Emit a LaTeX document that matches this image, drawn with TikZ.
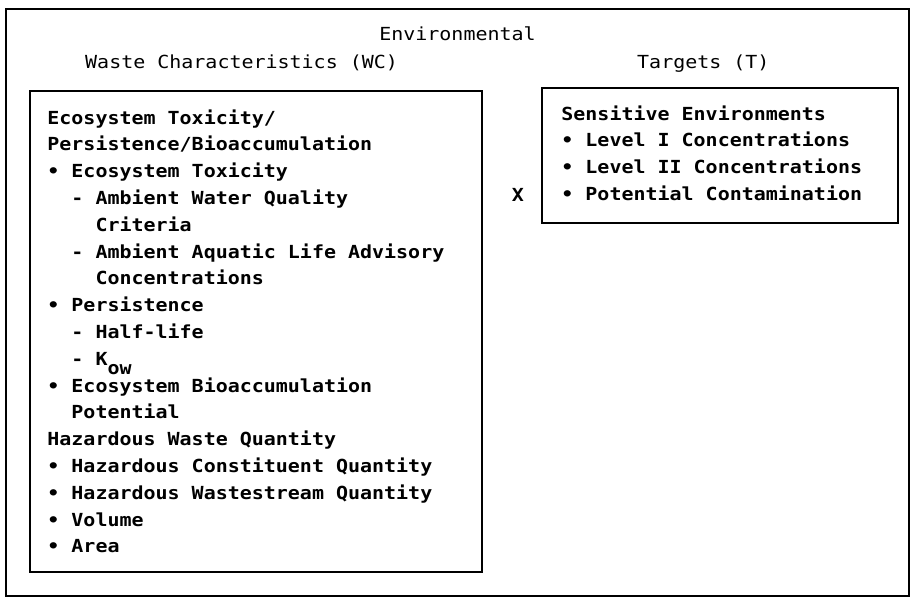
\documentclass[tikz,border=0pt]{standalone}
\usepackage{fontspec}
\usepackage{tikz}
\usetikzlibrary{positioning}
\newfontfamily\sheetfont[FakeStretch=1.11]{DejaVu Sans Mono}
\newcommand{\indw}{\hphantom{xx}}

\begin{document}
\begin{tikzpicture}[x=1pt, y=1pt,
    boxline/.style={draw, line width=1.6pt, inner sep=0pt},
    sheettext/.style={font=\sheetfont\fontsize{18}{26.8}\selectfont, inner sep=0pt, align=left},
    itemtext/.style={sheettext, font=\sheetfont\bfseries\fontsize{18}{26.8}\selectfont}]
  \useasboundingbox (0,0) rectangle (917,597);
  % outer frame and the two boxes
  \node[boxline, minimum width=903pt, minimum height=587pt] (sheet) at (457.5,294.5) {};
  \node[boxline, minimum width=452pt, minimum height=481pt] (wc) at (256,265.5) {};
  \node[boxline, minimum width=356pt, minimum height=135pt] (tg) at (720,441.5) {};

  % headings
  \node[sheettext, anchor=base] (env) at (457.5,556.5) {Environmental};
  \node[sheettext, anchor=base west] (wchead) at (85,528.5) {Waste Characteristics (WC)};
  \node[sheettext, anchor=base west] (tghead) at (637,528.5) {Targets (T)};

  % box contents
  \node[itemtext, anchor=north west] (wclist) at ([xshift=18pt, yshift=-19pt]wc.north west)
    {Ecosystem Toxicity/\\
     Persistence/Bioaccumulation\\
     • Ecosystem Toxicity\\
     \indw- Ambient Water Quality\\
     \indw\indw Criteria\\
     \indw- Ambient Aquatic Life Advisory\\
     \indw\indw Concentrations\\
     • Persistence\\
     \indw- Half-life\\
     \indw- K\raisebox{-9pt}{ow}\\
     • Ecosystem Bioaccumulation\\
     \indw Potential\\
     Hazardous Waste Quantity\\
     • Hazardous Constituent Quantity\\
     • Hazardous Wastestream Quantity\\
     • Volume\\
     • Area};
  \node[itemtext, anchor=north west] (tglist) at ([xshift=20pt, yshift=-18pt]tg.north west)
    {Sensitive Environments\\
     • Level I Concentrations\\
     • Level II Concentrations\\
     • Potential Contamination};
  \node[itemtext, anchor=base] (times) at (518,395.5) {X};
\end{tikzpicture}
\end{document}
